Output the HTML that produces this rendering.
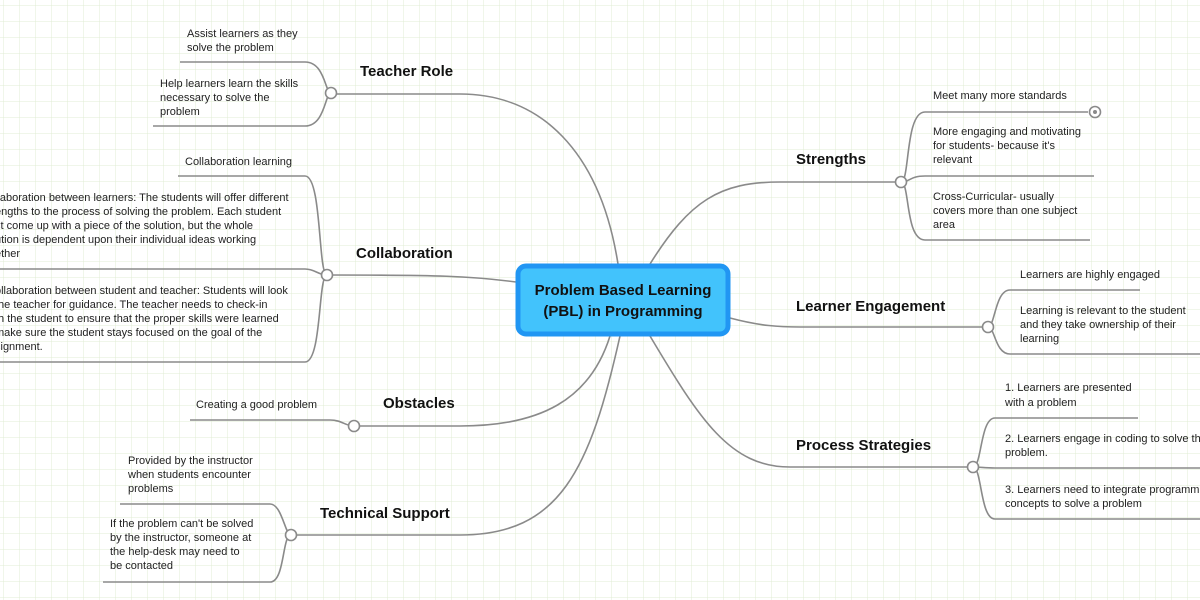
<!DOCTYPE html>
<html><head><meta charset="utf-8"><style>
html,body{margin:0;padding:0;width:1200px;height:600px;overflow:hidden;background:#fff}
svg text{font-family:"Liberation Sans","DejaVu Sans",sans-serif}
.s{font-size:11px;fill:#222}
.t{font-size:15px;font-weight:bold;fill:#111}
</style></head><body>
<svg width="1200" height="600" xmlns="http://www.w3.org/2000/svg">
<defs><pattern id="g" width="16" height="16" patternUnits="userSpaceOnUse" x="4" y="6"><path d="M16 0V16M0 16H16" fill="none" stroke="#e0ecd4" stroke-width="1"/></pattern></defs>
<rect width="1200" height="600" fill="url(#g)"/>
<g fill="none" stroke="#8a8a8a" stroke-width="1.6">
<path d="M618 264 C600 150 540 94 460 94 H331"/>
<path d="M516 282 C470 276 440 275 327 275"/>
<path d="M610 336 C590 400 540 426 460 426 H354"/>
<path d="M620 336 C590 470 560 535 460 535 H291"/>
<path d="M650 264 C690 200 720 182 780 182 H901"/>
<path d="M730 318 C760 326 780 327 800 327 H988"/>
<path d="M650 336 C700 420 730 467 790 467 H973"/>
<path d="M180 62 H305 C325 62 325 93 331 93"/>
<path d="M153 126 H305 C325 126 325 93 331 93"/>
<path d="M178 176 H305 C322 176 318 275 327 275"/>
<path d="M0 269 H305 C315 269 318 275 327 275"/>
<path d="M0 362 H305 C322 362 318 275 327 275"/>
<path d="M190 420 H330 C342 420 345 426 354 426"/>
<path d="M120 504 H270 C282 504 285 535 291 535"/>
<path d="M103 582 H270 C285 582 282 535 291 535"/>
<path d="M1088 112 H925 C905 112 910 182 901 182"/>
<path d="M1094 176 H925 C910 176 910 182 901 182"/>
<path d="M1090 240 H925 C905 240 910 182 901 182"/>
<path d="M1140 290 H1010 C995 290 995 327 988 327"/>
<path d="M1200 354 H1010 C995 354 995 327 988 327"/>
<path d="M1138 418 H995 C980 418 982 467 973 467"/>
<path d="M1200 468 H995 C985 468 980 467 973 467"/>
<path d="M1200 519 H995 C980 519 982 467 973 467"/>
</g>
<g fill="#fff" stroke="#8a8a8a" stroke-width="1.6">
<circle cx="331" cy="93" r="5.5"/><circle cx="327" cy="275" r="5.5"/><circle cx="354" cy="426" r="5.5"/><circle cx="291" cy="535" r="5.5"/>
<circle cx="901" cy="182" r="5.5"/><circle cx="988" cy="327" r="5.5"/><circle cx="973" cy="467" r="5.5"/><circle cx="1095" cy="112" r="5.5"/>
</g>
<circle cx="1095" cy="112" r="2" fill="#8a8a8a"/>
<rect x="518" y="266" width="210" height="68" rx="8" fill="#42c3fc" stroke="#2196f3" stroke-width="5"/>
<text class="t" x="623" y="295" text-anchor="middle">Problem Based Learning</text>
<text class="t" x="623" y="316" text-anchor="middle">(PBL) in Programming</text>
<text class="t" x="360" y="76">Teacher Role</text>
<text class="t" x="356" y="258">Collaboration</text>
<text class="t" x="383" y="408">Obstacles</text>
<text class="t" x="320" y="518">Technical Support</text>
<text class="t" x="796" y="164">Strengths</text>
<text class="t" x="796" y="311">Learner Engagement</text>
<text class="t" x="796" y="450">Process Strategies</text>
<g class="s">
<text x="187" y="37">Assist learners as they</text><text x="187" y="51">solve the problem</text>
<text x="160" y="87">Help learners learn the skills</text><text x="160" y="101">necessary to solve the</text><text x="160" y="115">problem</text>
<text x="185" y="165">Collaboration learning</text>
<text x="-5" y="201">llaboration between learners: The students will offer different</text>
<text x="-5" y="215">engths to the process of solving the problem. Each student</text>
<text x="-5" y="229">st come up with a piece of the solution, but the whole</text>
<text x="-5" y="243">ution is dependent upon their individual ideas working</text>
<text x="-5" y="257">ether</text>
<text x="-5" y="294">ollaboration between student and teacher: Students will look</text>
<text x="-5" y="308"> the teacher for guidance. The teacher needs to check-in</text>
<text x="-5" y="322">th the student to ensure that the proper skills were learned</text>
<text x="-5" y="336">make sure the student stays focused on the goal of the</text>
<text x="-5" y="350">signment.</text>
<text x="196" y="408">Creating a good problem</text>
<text x="128" y="464">Provided by the instructor</text><text x="128" y="478">when students encounter</text><text x="128" y="492">problems</text>
<text x="110" y="527">If the problem can't be solved</text><text x="110" y="541">by the instructor, someone at</text><text x="110" y="555">the help-desk may need to</text><text x="110" y="569">be contacted</text>
<text x="933" y="99">Meet many more standards</text>
<text x="933" y="135">More engaging and motivating</text><text x="933" y="149">for students- because it's</text><text x="933" y="163">relevant</text>
<text x="933" y="200">Cross-Curricular- usually</text><text x="933" y="214">covers more than one subject</text><text x="933" y="228">area</text>
<text x="1020" y="278">Learners are highly engaged</text>
<text x="1020" y="314">Learning is relevant to the student</text><text x="1020" y="328">and they take ownership of their</text><text x="1020" y="342">learning</text>
<text x="1005" y="391">1. Learners are presented</text><text x="1005" y="406">with a problem</text>
<text x="1005" y="442">2. Learners engage in coding to solve the</text><text x="1005" y="456">problem.</text>
<text x="1005" y="493">3. Learners need to integrate programming</text><text x="1005" y="507">concepts to solve a problem</text>
</g>
</svg>
</body></html>
